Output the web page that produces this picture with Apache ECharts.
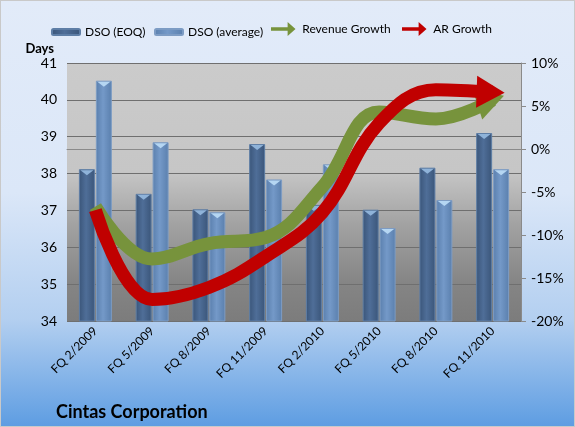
<!DOCTYPE html>
<html>
<head>
<meta charset="utf-8">
<script src="https://cdn.jsdelivr.net/npm/echarts@6/dist/echarts.min.js"></script>
<style>
    html, body { margin: 0; padding: 0; }
    #main {
        width: 573px; height: 425px;
        border: 1px solid #c9c9c9;
        background: linear-gradient(to bottom, #e2ebf9 0%, #dbe7f8 45%, #b3cff0 75%, #5e9de2 100%);
    }
</style>
</head>
<body>
<div id="main"></div>
<script>
'use strict';

var categories = ['FQ 2/2009', 'FQ 5/2009', 'FQ 8/2009', 'FQ 11/2009', 'FQ 2/2010', 'FQ 5/2010', 'FQ 8/2010', 'FQ 11/2010'];
var dsoEoq = [38.12, 37.45, 37.03, 38.8, 37.15, 37.02, 38.16, 39.1];
var dsoAvg = [40.52, 38.85, 36.95, 37.84, 38.25, 36.52, 37.28, 38.12];
var revenueGrowth = [-6.7, -12.8, -11.0, -10.3, -4.4, 4.3, 3.5, 5.7];
var arGrowth = [-7.1, -17.5, -16.1, -12.5, -7.4, 3.0, 6.9, 6.6];

var font = 'Lato';
var arrowIcon = 'path://M0,6 L19,6 L19,0 L28,8 L19,16 L19,10 L0,10 Z';

// 最后一个点画成箭头
var withArrow = function (values, rotate) {
    return values.map(function (v, i) {
        if (i < values.length - 1) {
            return v;
        }
        return {
            value: v,
            symbol: 'triangle',
            symbolSize: [32, 28],
            symbolRotate: rotate,
            symbolOffset: [-2, 0]
        };
    });
};

var barGradient = function (edge, mid) {
    return new echarts.graphic.LinearGradient(0, 0, 1, 0, [
        {offset: 0, color: edge},
        {offset: 0.45, color: mid},
        {offset: 1, color: edge}
    ]);
};

var legendItem = function (name, left, top, icon, h) {
    var item = {
        data: [icon ? {name: name, icon: icon} : name],
        left: left,
        top: top,
        itemWidth: 28,
        itemHeight: h,
        textStyle: {fontFamily: font, fontSize: 12, color: '#000'}
    };
    return item;
};

// 柱顶小三角
var barCap = function (values, color) {
    return {
        type: 'pictorialBar',
        yAxisIndex: 0,
        barWidth: 16,
        barGap: '6%',
        symbol: 'triangle',
        symbolRotate: 180,
        symbolSize: [13, 5],
        symbolPosition: 'end',
        symbolOffset: [0, 1],
        z: 3,
        silent: true,
        data: values,
        itemStyle: {color: color}
    };
};

var myChart = echarts.init(document.getElementById('main'));

var option = {
    textStyle: {fontFamily: font},
    title: {
        text: 'Cintas Corporation',
        left: 50,
        top: 397,
        textStyle: {fontFamily: font, fontSize: 18, fontWeight: 'bold', color: '#000'}
    },
    legend: [
        legendItem('DSO (EOQ)', 45, 20, null, 6),
        legendItem('DSO (average)', 148, 20, null, 6),
        legendItem('Revenue Growth', 265, 16, arrowIcon, 14),
        legendItem('AR Growth', 396, 16, arrowIcon, 14)
    ],
    grid: {
        left: 66,
        right: 53,
        top: 62,
        bottom: 105,
        show: true,
        borderWidth: 0,
        backgroundColor: new echarts.graphic.LinearGradient(0, 0, 0, 1, [
            {offset: 0, color: '#cbcbcb'},
            {offset: 0.42, color: '#c6c6c6'},
            {offset: 0.62, color: '#a3a3a3'},
            {offset: 0.85, color: '#858585'},
            {offset: 1, color: '#7c7c7c'}
        ])
    },
    xAxis: {
        type: 'category',
        data: categories,
        axisLine: {lineStyle: {color: '#8a8a8a'}},
        axisTick: {lineStyle: {color: '#8a8a8a'}},
        axisLabel: {
            rotate: 45,
            fontSize: 12,
            margin: 8,
            color: '#000',
            fontFamily: font
        }
    },
    yAxis: [
        {
            type: 'value',
            min: 34,
            max: 41,
            interval: 1,
            name: 'Days',
            nameGap: 8,
            nameTextStyle: {fontFamily: font, fontWeight: 'bold', fontSize: 13, color: '#000', align: 'right', padding: [0, 13, 0, 0]},
            axisLine: {show: false},
            axisTick: {show: false},
            axisLabel: {fontSize: 14, color: '#000', margin: 10, fontFamily: font},
            splitLine: { //网格线
                show: true,
                lineStyle: {color: '#6f6f6f', width: 1}
            }
        },
        {
            type: 'value',
            min: -20,
            max: 10,
            interval: 5,
            position: 'right',
            axisLine: {show: true, lineStyle: {color: '#8a8a8a'}},
            axisTick: {show: true, lineStyle: {color: '#8a8a8a'}},
            axisLabel: {fontSize: 14, color: '#000', margin: 10, formatter: '{value}%', fontFamily: font},
            splitLine: {show: false}
        }
    ],
    series: [
        {
            name: 'DSO (EOQ)',
            type: 'bar',
            yAxisIndex: 0,
            barWidth: 16,
            barGap: '6%',
            data: dsoEoq,
            itemStyle: {
                color: barGradient('#3a5579', '#4f6e98'),
                borderColor: '#5e7ea6',
                borderWidth: 1
            }
        },
        {
            name: 'DSO (average)',
            type: 'bar',
            yAxisIndex: 0,
            barWidth: 16,
            barGap: '6%',
            data: dsoAvg,
            itemStyle: {
                color: barGradient('#5a7fad', '#7499c8'),
                borderColor: '#7d9cc4',
                borderWidth: 1
            }
        },
        barCap(dsoEoq, '#8fb3d9'),
        barCap(dsoAvg, '#b5d6f2'),
        {
            name: 'Revenue Growth',
            type: 'line',
            yAxisIndex: 1,
            smooth: 0.4,
            symbol: 'none',
            z: 5,
            data: withArrow(revenueGrowth, -72),
            lineStyle: {color: '#77933c', width: 13},
            itemStyle: {color: '#77933c'}
        },
        {
            name: 'AR Growth',
            type: 'line',
            yAxisIndex: 1,
            smooth: 0.4,
            symbol: 'none',
            z: 6,
            data: withArrow(arGrowth, -92),
            lineStyle: {color: '#c00000', width: 13},
            itemStyle: {color: '#c00000'}
        }
    ]
};

myChart.setOption(option);
</script>
</body>
</html>
